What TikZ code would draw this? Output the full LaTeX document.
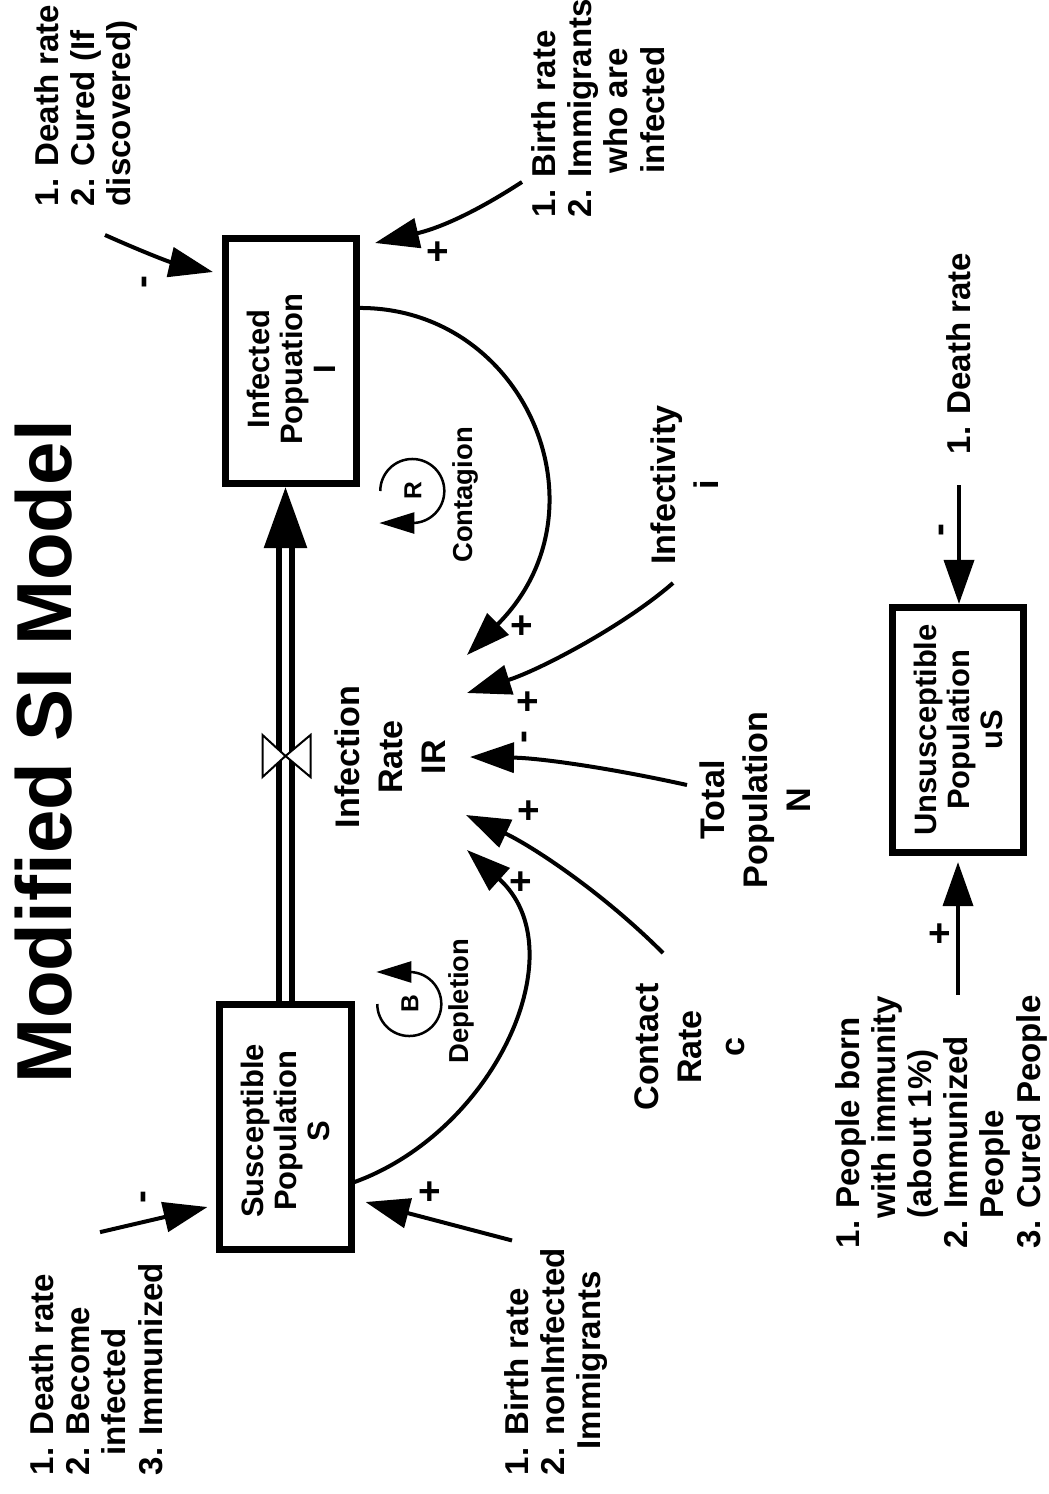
\documentclass[tikz,border=0pt]{standalone}
\usepackage{fontspec}
\setmainfont{Liberation Sans}
\usetikzlibrary{arrows.meta}

\begin{document}
\begin{tikzpicture}[x=0.01cm, y=-0.01cm,
    stock/.style={draw, line width=0.07cm, minimum width=1.31cm, minimum height=2.45cm, inner sep=0pt},
    stocktxt/.style={rotate=90, align=center, inner sep=0pt, font=\bfseries\fontsize{8.8}{9.4}\selectfont},
    var/.style={rotate=90, align=center, inner sep=0pt, font=\bfseries\fontsize{9.7}{12.2}\selectfont},
    lst/.style={rotate=90, align=left, inner sep=0pt, anchor=west, font=\bfseries\fontsize{9.4}{10.3}\selectfont},
    link/.style={line width=0.04cm, -{Triangle[length=12.5pt,width=8.5pt]}},
    sign/.style={inner sep=0pt, font=\bfseries\fontsize{11}{11}\selectfont},
    loopsym/.style={circle, minimum size=0.64cm, inner sep=0pt, rotate=90, font=\bfseries\fontsize{7}{7}\selectfont},
    loopname/.style={rotate=90, inner sep=0pt, font=\bfseries\fontsize{7.8}{8}\selectfont},
    looparr/.style={line width=0.025cm, -{Triangle[length=10pt,width=6pt]}}]

  \useasboundingbox (0,0) rectangle (1049,1494);

  \node[rotate=90, font=\bfseries\fontsize{22.2}{24}\selectfont] (title) at (44,752) {Modified SI Model};

  % stocks
  \node[stock, label={[stocktxt, xshift=-0.08cm]center:{Infected\\Popuation\\I}}] (I) at (291,361) {};
  \node[stock, label={[stocktxt, xshift=-0.04cm]center:{Susceptible\\Population\\S}}] (S) at (285.5,1127) {};
  \node[stock, label={[stocktxt]center:{Unsusceptible\\Population\\uS}}] (uS) at (958,730) {};

  % flow S -> I with valve
  \coordinate (ptop) at (S.north |- I.south);
  \coordinate (valve) at (ptop |- 0,756);
  \draw[line width=0.06cm, double distance=0.07cm] (S.north) -- ([yshift=-0.6cm]ptop);
  \draw[line width=0.06cm, -{Triangle[length=0.61cm,width=0.42cm]}] ([yshift=-0.6cm]ptop) -- (ptop);
  \draw[fill=white, line width=0.02cm] ([shift={(-23,-21)}]valve) -- (valve) -- ([shift={(-23,21)}]valve) -- cycle;
  \draw[fill=white, line width=0.02cm] ([shift={(25,-21)}]valve) -- (valve) -- ([shift={(25,21)}]valve) -- cycle;

  % auxiliaries
  \node[var] (IR) at (390,757) {Infection\\Rate\\IR};
  \node[var] (Inf) at (685,485) {Infectivity\\i};
  \node[var] (Tot) at (755,800) {Total\\Population\\N};
  \node[var] (Con) at (690,1047) {Contact\\Rate\\c};

  % lists
  \node[lst] (dI) at (86,207) {1. Death rate\\2. Cured (If\\discovered)};
  \node[lst] (bI) at (598,218) {1. Birth rate\\2. Immigrants\\\hspace*{12.5pt}who are\\\hspace*{12.5pt}infected};
  \node[lst] (dS) at (96,1476) {1. Death rate\\2. Become\\\hspace*{5.7pt}infected\\3. Immunized};
  \node[lst] (bS) at (556,1476) {1. Birth rate\\2. nonInfected\\\hspace*{7.4pt}Immigrants};
  \node[lst] (buS) at (941,1249) {1. People born\\\hspace*{8.5pt}with immunity\\\hspace*{8.5pt}(about 1\%)\\2. Immunized\\\hspace*{8.5pt}People\\3. Cured People};
  \node[lst] (duS) at (959,455) {1. Death rate};

  % loops
  \node[loopsym] (Rl) at (413,491) {R};
  \draw[looparr] (Rl.north) arc[start angle=180, end angle=-90, radius=0.32cm] -- ++(-33,0);
  \node[loopname] (Rn) at (465,495) {Contagion};
  \node[loopsym] (Bl) at (410,1004) {B};
  \draw[looparr] (Bl.north) arc[start angle=180, end angle=450, radius=0.32cm] -- ++(-33,0);
  \node[loopname] (Bn) at (461,1001) {Depletion};

  % links into the infection rate
  \draw[link] ([yshift=0.53cm]I.east) .. controls (525,308) and (612,510) .. ([shift={(77,-102)}]IR.center) node[sign] at (522,627) {+};
  \draw[link] ([shift={(-12,98)}]Inf.center) .. controls (625,625) and (540,670) .. ([shift={(77,-64)}]IR.center) node[sign] at (528,703) {+};
  \draw[link] ([shift={(-68,-15)}]Tot.center) .. controls (610,768) and (540,758) .. ([shift={(80,0)}]IR.center) node[sign, rotate=90] at (528,737) {-};
  \draw[link] ([shift={(-27,-94)}]Con.center) .. controls (600,890) and (530,845) .. ([shift={(76,58)}]IR.center) node[sign] at (529,812) {+};
  \draw[link] ([yshift=-0.55cm]S.east) .. controls (495,1131) and (578,950) .. ([shift={(77,93)}]IR.center) node[sign] at (521,883) {+};

  % links into the stocks
  \draw[link] ([shift={(19,28)}]dI.west) to[out=-24, in=167] ([shift={(-9,-89)}]I.west) node[sign, rotate=90] at (148,282) {-};
  \draw[link] ([shift={(-76,-36)}]bI.west) to[out=-147, in=13] ([shift={(15,-118)}]I.east) node[sign] at (438,253) {+};
  \draw[link] ([shift={(4,-30)}]dS.east) -- ([shift={(-9,80)}]S.west) node[sign, rotate=90] at (147,1197) {-};
  \draw[link] ([shift={(-44,-7)}]bS.east) -- ([shift={(11,75)}]S.east) node[sign] at (430,1193) {+};
  \draw[link, shorten <=0.3cm] (duS.west) -- (duS.west |- uS.north) node[sign, rotate=90] at (945,530) {-};
  \draw[link, shorten >=0.06cm] (uS.south |- buS.east) -- (uS.south) node[sign] at (940,935) {+};
\end{tikzpicture}
\end{document}
